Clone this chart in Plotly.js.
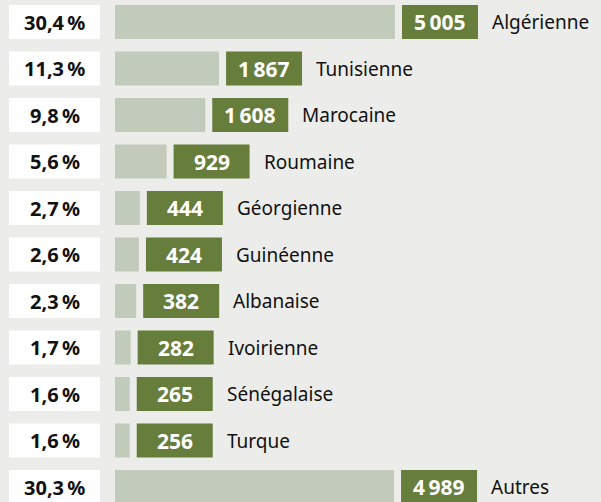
<!DOCTYPE html>
<html>
<head>
<meta charset="utf-8">
<script src="https://cdn.plot.ly/plotly-3.0.1.min.js"></script>
<style>html,body{margin:0;padding:0;background:#ecedea;}#chart{width:601px;height:502px;}</style>
</head>
<body>
<div id="chart"></div>
<script>
const nationalities = ["Algérienne","Tunisienne","Marocaine","Roumaine","Géorgienne","Guinéenne","Albanaise","Ivoirienne","Sénégalaise","Turque","Autres"];
const shares = [30.4, 11.3, 9.8, 5.6, 2.7, 2.6, 2.3, 1.7, 1.6, 1.6, 30.3];
const counts = [5005, 1867, 1608, 929, 444, 424, 382, 282, 265, 256, 4989];

// layout helpers (pixel geometry)
const PX = 9.21;          // pixels per percentage point
const ORIGIN = 115;       // pixel position of 0 %
const W = 601, H = 502;
const x0 = -ORIGIN / PX, x1 = x0 + W / PX;
const rowPitch = 46.5, firstRow = 22;
const yTop = -firstRow / rowPitch, yBot = (H - firstRow) / rowPitch;
const barW = 34 / rowPitch;

const idx = shares.map((_, i) => i);
const fmtPct = v => v.toFixed(1).replace('.', ',') + '\u202f%';
const fmtNum = v => { const s = String(v); return s.length > 3 ? s.slice(0, s.length - 3) + '\u2009' + s.slice(-3) : s; };

const font = "Noto Sans, Open Sans, sans-serif";
const boxX = (9 - ORIGIN) / PX, boxW = 91 / PX;
const gX = 7 / PX, gW = 76 / PX, lX = 97 / PX;

const traces = [
  { type: 'bar', orientation: 'h', y: idx, x: shares.map(() => boxW), base: shares.map(() => boxX),
    width: barW, marker: { color: '#ffffff' }, hoverinfo: 'skip' },
  { type: 'bar', orientation: 'h', y: idx, x: shares, base: 0,
    width: barW, marker: { color: '#c2cabb' }, hoverinfo: 'skip' },
  { type: 'bar', orientation: 'h', y: idx, x: shares.map(() => gW), base: shares.map(v => v + gX),
    width: barW, marker: { color: '#667d3c' }, hoverinfo: 'skip' }
];

const annotations = [];
shares.forEach((v, i) => {
  annotations.push({ x: boxX + boxW / 2, y: i, text: fmtPct(v), showarrow: false,
    xanchor: 'center', yanchor: 'middle',
    font: { family: font, size: 20, color: '#111111', weight: 'bold' } });
  annotations.push({ x: v + gX + gW / 2, y: i, text: fmtNum(counts[i]), showarrow: false,
    xanchor: 'center', yanchor: 'middle',
    font: { family: font, size: 21, color: '#ffffff', weight: 'bold' } });
  annotations.push({ x: v + lX, y: i, text: nationalities[i], showarrow: false,
    xanchor: 'left', yanchor: 'middle', xshift: -2,
    font: { family: font, size: 19, color: '#111111' } });
});

const layout = {
  width: W, height: H,
  margin: { l: 0, r: 0, t: 0, b: 0, pad: 0 },
  paper_bgcolor: '#ecedea', plot_bgcolor: '#ecedea',
  barmode: 'overlay', showlegend: false,
  xaxis: { range: [x0, x1], visible: false, fixedrange: true },
  yaxis: { range: [yBot, yTop], visible: false, fixedrange: true },
  annotations: annotations
};

Plotly.newPlot('chart', traces, layout, { displayModeBar: false, staticPlot: true });
</script>
</body>
</html>
